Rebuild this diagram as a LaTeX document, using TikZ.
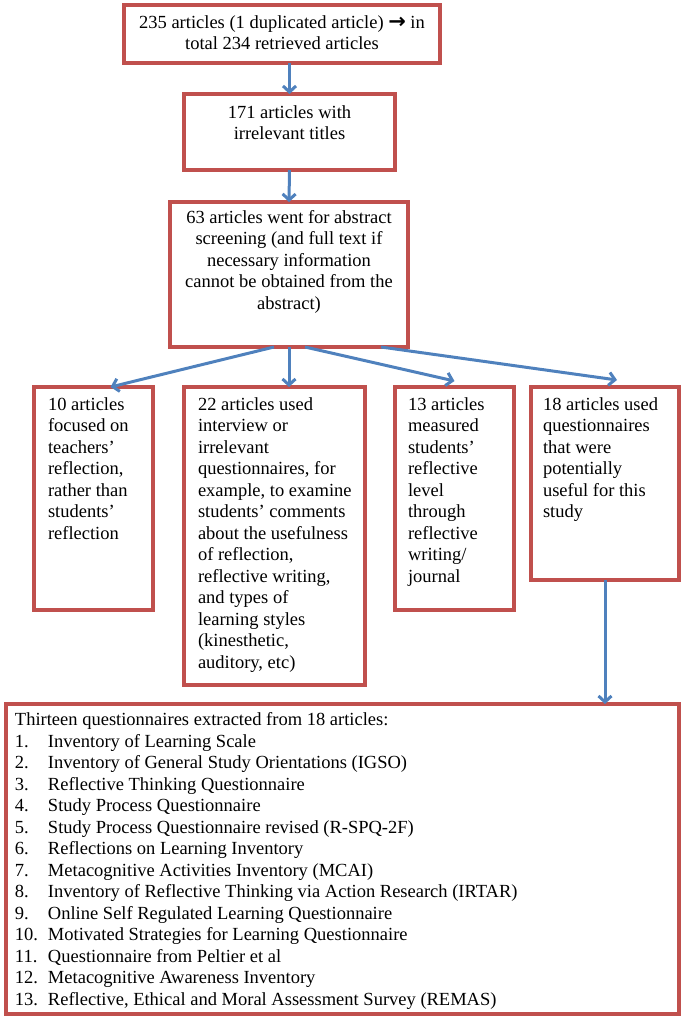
\documentclass[tikz,border=0pt]{standalone}
\usepackage{fontspec}
\setmainfont{Liberation Serif}
\newfontfamily\arrowfont{DejaVu Sans}
\usetikzlibrary{arrows.meta,calc}
\definecolor{boxred}{HTML}{C0504D}
\definecolor{arrblue}{HTML}{4F81BD}
\begin{document}
\begin{tikzpicture}[x=1pt,y=-1pt,
  box/.style={draw=boxred,line width=4pt,inner sep=0pt,outer sep=0pt,fill=white},
  txt/.style={inner sep=0pt,outer sep=0pt,font=\fontsize{18.5}{21.5}\selectfont},
  arr/.style={draw=arrblue,line width=3pt,-{Straight Barb[length=6pt,width=13pt]}}
]
\useasboundingbox (0,0) rectangle (685,1021);
% boxes
\node[box,minimum width=316pt,minimum height=58pt] (b1) at (282,34) {};
\node[box,minimum width=211pt,minimum height=76pt] (b2) at (289.5,132) {};
\node[box,minimum width=238pt,minimum height=145pt] (b3) at (289,274.5) {};
\node[box,minimum width=119pt,minimum height=223pt] (b10) at (93.5,498.5) {};
\node[box,minimum width=181pt,minimum height=298pt] (b22) at (274.5,536) {};
\node[box,minimum width=119pt,minimum height=223pt] (b13) at (454.5,498.5) {};
\node[box,minimum width=148pt,minimum height=193pt] (b18) at (605,483.5) {};
\node[box,minimum width=673pt,minimum height=310pt] (bot) at (342.5,859) {};
% texts
\node[txt,align=center,anchor=north] (t1) at (282,13) {\strut 235 articles (1 duplicated article) {\arrowfont\bfseries\fontsize{21}{21}\selectfont →} in\\total 234 retrieved articles};
\node[txt,align=center,anchor=north] (t2) at (289.5,103) {\strut 171 articles with\\irrelevant titles};
\node[txt,align=center,anchor=north] (t3) at (289,208) {\strut 63 articles went for abstract\\screening (and full text if\\necessary information\\cannot be obtained from the\\abstract)};
\node[txt,align=left,anchor=north west] (t10) at (48,395) {\strut 10 articles\\focused on\\teachers’\\reflection,\\rather than\\students’\\reflection};
\node[txt,align=left,anchor=north west] (t22) at (198,395) {\strut 22 articles used\\interview or\\irrelevant\\questionnaires, for\\example, to examine\\students’ comments\\about the usefulness\\of reflection,\\reflective writing,\\and types of\\learning styles\\(kinesthetic,\\auditory, etc)};
\node[txt,align=left,anchor=north west] (t13) at (408,395) {\strut 13 articles\\measured\\students’\\reflective\\level\\through\\reflective\\writing/\\journal};
\node[txt,align=left,anchor=north west] (t18) at (543,395) {\strut 18 articles used\\questionnaires\\that were\\potentially\\useful for this\\study};
\node[txt,align=left,anchor=north west] (tb) at (15,710.5) {\strut Thirteen questionnaires extracted from 18 articles:\\
\makebox[33pt][l]{1.}Inventory of Learning Scale\\
\makebox[33pt][l]{2.}Inventory of General Study Orientations (IGSO)\\
\makebox[33pt][l]{3.}Reflective Thinking Questionnaire\\
\makebox[33pt][l]{4.}Study Process Questionnaire\\
\makebox[33pt][l]{5.}Study Process Questionnaire revised (R-SPQ-2F)\\
\makebox[33pt][l]{6.}Reflections on Learning Inventory\\
\makebox[33pt][l]{7.}Metacognitive Activities Inventory (MCAI)\\
\makebox[33pt][l]{8.}Inventory of Reflective Thinking via Action Research (IRTAR)\\
\makebox[33pt][l]{9.}Online Self Regulated Learning Questionnaire\\
\makebox[33pt][l]{10.}Motivated Strategies for Learning Questionnaire\\
\makebox[33pt][l]{11.}Questionnaire from Peltier et al\\
\makebox[33pt][l]{12.}Metacognitive Awareness Inventory\\
\makebox[33pt][l]{13.}Reflective, Ethical and Moral Assessment Survey (REMAS)};
% connectors
\draw[arr] (b2.north |- b1.south) -- (b2.north);
\draw[arr] (b2.south) -- (b3.north);
\coordinate (s10) at ([xshift=-15pt]b3.south);
\coordinate (e10) at ([xshift=17pt]b10.north);
\coordinate (s13) at ([xshift=16pt]b3.south);
\coordinate (e13) at ([yshift=6pt]b13.north);
\coordinate (s18) at ([xshift=92pt]b3.south);
\coordinate (e18) at ([xshift=12pt,yshift=7pt]b18.north);
\draw[arr] (s10) -- (e10);
\draw[arr] (b3.south) -- (b3.south |- b22.north);
\draw[arr] (s13) -- (e13);
\draw[arr] (s18) -- (e18);
\draw[arr] (b18.south) -- (b18.south |- bot.north);
\end{tikzpicture}
\end{document}
